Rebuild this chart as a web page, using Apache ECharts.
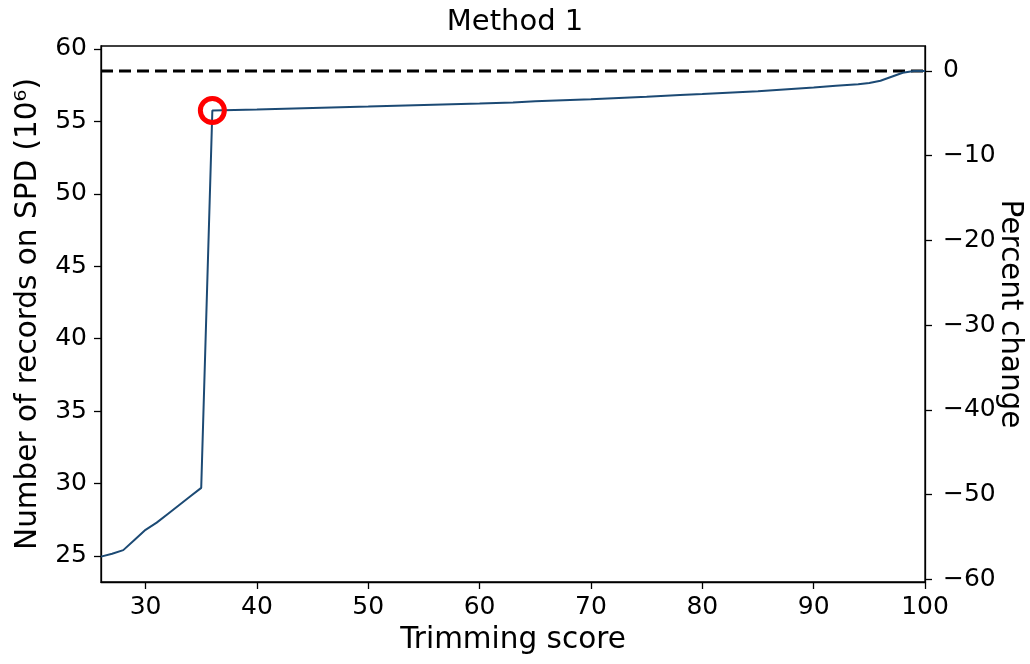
<!DOCTYPE html>
<html>
<head>
<meta charset="utf-8">
<title>Method 1</title>
<script src="https://cdn.jsdelivr.net/npm/echarts@6/dist/echarts.min.js"></script>
<style>
  html, body { margin: 0; padding: 0; background: #fff; }
  #chart { width: 1030px; height: 664px; }
</style>
</head>
<body>
<div id="chart"></div>
<script>
// trimming score vs number of records (millions)
const scores = [26, 27, 28, 29, 30, 31, 32, 33, 34, 35, 36, 40, 45, 50, 55, 60, 63, 65, 70, 75, 78, 80, 85, 90, 92, 94, 95, 96, 97, 98, 99, 100]
const records = [24.95, 25.15, 25.4, 26.1, 26.8, 27.3, 27.9, 28.5, 29.1, 29.7, 55.75, 55.82, 55.92, 56.02, 56.13, 56.23, 56.3, 56.38, 56.52, 56.7, 56.81, 56.88, 57.08, 57.33, 57.45, 57.56, 57.65, 57.8, 58.08, 58.35, 58.48, 58.48]
const highlight = [36, 55.75]
const baseline = 58.48

const xMin = 26
const xMax = 100
const yMin = 23.2
const yMax = 60.2
const pctMin = (yMin / baseline - 1) * 100
const pctMax = (yMax / baseline - 1) * 100

const font = 'DejaVu Sans'
const black = '#000'
const minus = (v) => (v < 0 ? '\u2212' + Math.abs(v) : String(v))

const chart = echarts.init(document.getElementById('chart'), null, { renderer: 'canvas' })

chart.setOption({
  animation: false,
  title: {
    text: 'Method 1',
    left: 'center',
    top: 3,
    textStyle: { fontFamily: font, fontSize: 29, fontWeight: 'normal', color: black },
  },
  grid: {
    left: 101,
    right: 105,
    top: 46,
    bottom: 82,
    outerBoundsMode: 'none',
    containLabel: false,
    show: true,
    borderColor: black,
    borderWidth: 1.3,
  },
  xAxis: {
    type: 'value',
    min: xMin,
    max: xMax,
    splitNumber: 7,
    name: 'Trimming score',
    nameLocation: 'middle',
    nameGap: 43,
    nameTextStyle: { fontFamily: font, fontSize: 29.5, color: black },
    axisLine: { show: true, onZero: false, lineStyle: { color: black, width: 1.3 } },
    axisTick: { show: true, length: 7, lineStyle: { color: black, width: 1.3 } },
    axisLabel: { fontFamily: font, fontSize: 25, color: black, margin: 13, showMinLabel: false },
    splitLine: { show: false },
  },
  yAxis: [
    {
      type: 'value',
      min: yMin,
      max: yMax,
      splitNumber: 7,
      position: 'left',
      name: 'Number of records on SPD (10\u2076)',
      nameLocation: 'middle',
      nameGap: 58,
      nameTextStyle: { fontFamily: font, fontSize: 29.5, color: black },
      axisLine: { show: true, onZero: false, lineStyle: { color: black, width: 1.3 } },
      axisTick: { show: true, length: 7, lineStyle: { color: black, width: 1.3 } },
      axisLabel: { fontFamily: font, fontSize: 25, color: black, margin: 14, showMinLabel: false, showMaxLabel: false },
      splitLine: { show: false },
    },
    {
      type: 'value',
      min: pctMin,
      max: pctMax,
      splitNumber: 6,
      position: 'right',
      name: 'Percent change',
      nameLocation: 'middle',
      nameRotate: -90,
      nameGap: 70,
      nameMoveOverlap: false,
      nameTextStyle: { fontFamily: font, fontSize: 29.5, color: black },
      axisLine: { show: true, onZero: false, lineStyle: { color: black, width: 1.3 } },
      axisTick: { show: true, length: 7, lineStyle: { color: black, width: 1.3 } },
      axisLabel: { fontFamily: font, fontSize: 25, color: black, margin: 18, showMinLabel: false, showMaxLabel: false, formatter: minus },
      splitLine: { show: false },
    },
  ],
  series: [
    {
      // 0 % change reference line
      type: 'line',
      yAxisIndex: 1,
      data: [[xMin, 0], [xMax, 0]],
      showSymbol: false,
      silent: true,
      lineStyle: { color: black, width: 3, type: [12, 6] },
      z: 2,
    },
    {
      type: 'line',
      yAxisIndex: 0,
      data: scores.map((s, i) => [s, records[i]]),
      showSymbol: false,
      lineStyle: { color: '#1c4a74', width: 2 },
      z: 3,
    },
    {
      type: 'scatter',
      yAxisIndex: 0,
      data: [highlight],
      symbol: 'circle',
      symbolSize: 24,
      itemStyle: { color: 'rgba(0,0,0,0)', borderColor: '#ff0000', borderWidth: 5, opacity: 1 },
      z: 4,
    },
  ],
})
</script>
</body>
</html>
